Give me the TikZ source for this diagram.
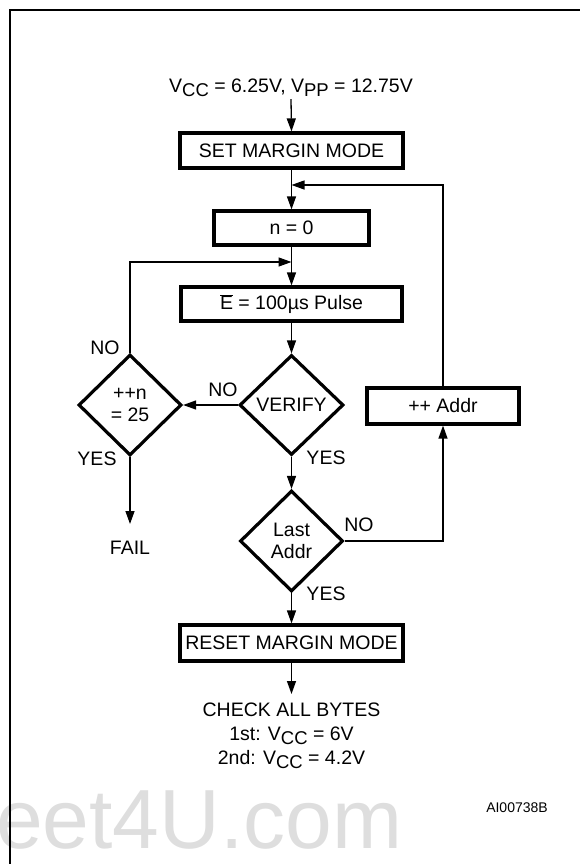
\documentclass[tikz,border=0pt]{standalone}
\usepackage{fontspec}
\setmainfont{Liberation Sans}
\usetikzlibrary{shapes.geometric,arrows.meta}
\newcommand\subtx[1]{\raisebox{-0.4ex}{\fontsize{18.5}{20}\selectfont #1}}
\begin{document}
\begin{tikzpicture}[x=1pt,y=-1pt,
  every node/.style={font=\fontsize{19.5}{24}\selectfont, inner sep=0pt},
  boxnode/.style={draw, line width=3.2pt, rectangle, minimum height=35pt},
  dia/.style={draw, line width=3.2pt, diamond, minimum width=103pt, minimum height=101pt, align=center},
  arr/.style={line width=1.3pt, -{Triangle[length=13pt,width=9pt]}},
  ln/.style={line width=1.3pt}]
\useasboundingbox (0,0) rectangle (579,864);
% watermark
\node[anchor=base west, text=black!13, font=\fontsize{84}{90}\selectfont] (wm) at (-4,848) {eet4U.com};
% frame
\draw[line width=2.5pt] (10,870) -- (10,10) -- (580,10);
% nodes
\node (vtop) at (291,88) {V\subtx{CC} = 6.25V, V\subtx{PP} = 12.75V};
\node[boxnode, minimum width=223pt] (set) at (291.5,150.5) {SET MARGIN MODE};
\coordinate (j1) at (291.5,185);
\node[boxnode, minimum width=155pt, minimum height=34pt] (n0) at (291.5,228) {n = 0};
\coordinate (j2) at (291.5,262);
\node[boxnode, minimum width=221pt, minimum height=34pt] (e) at (291.5,304) {$\overline{\hbox{E}}$ = 100µs Pulse};
\node[dia, minimum width=104pt, minimum height=100pt] (ver) at (291.5,405) {VERIFY};
\node[dia] (inc) at (130,405) {++n\\[-2pt]= 25};
\node[dia] (last) at (291.5,541) {Last\\[-2pt]Addr};
\node[boxnode, minimum width=152pt, minimum height=36pt] (addr) at (443,406) {++ Addr};
\node[boxnode, minimum width=223pt, minimum height=36pt] (reset) at (291.5,643) {RESET MARGIN MODE};
\coordinate (failtip) at (130,524);
\node (fail) at (130,548) {FAIL};
\coordinate (chktip) at (291.5,694);
\node[align=center, anchor=north] (chk) at (291.5,703) {CHECK ALL BYTES\\1st: V\subtx{CC} = 6V\\2nd: V\subtx{CC} = 4.2V};
\node[font=\fontsize{14}{16}\selectfont] (code) at (517,808) {AI00738B};
% labels
\node (l1) at (223,390) {NO};
\node (l2) at (105,348) {NO};
\node (l3) at (97,459) {YES};
\node (l4) at (326,458) {YES};
\node (l5) at (359,525) {NO};
\node (l6) at (326,594) {YES};
% connectors
\draw[arr] (vtop.south) ++(0,2) -- (set.north);
\draw[arr] (set.south) -- (n0.north);
\draw[arr] (addr.north) |- (j1);
\draw[arr] (n0.south) -- (e.north);
\draw[arr] (inc.north) |- (j2);
\draw[arr] (e.south) -- (ver.north);
\draw[arr] (ver.west) -- (inc.east);
\draw[arr] (inc.south) -- (failtip);
\draw[arr] (ver.south) -- (last.north);
\draw[arr] (last.east) -| (addr.south);
\draw[arr] (last.south) -- (reset.north);
\draw[arr] (reset.south) -- (chktip);
\end{tikzpicture}
\end{document}
